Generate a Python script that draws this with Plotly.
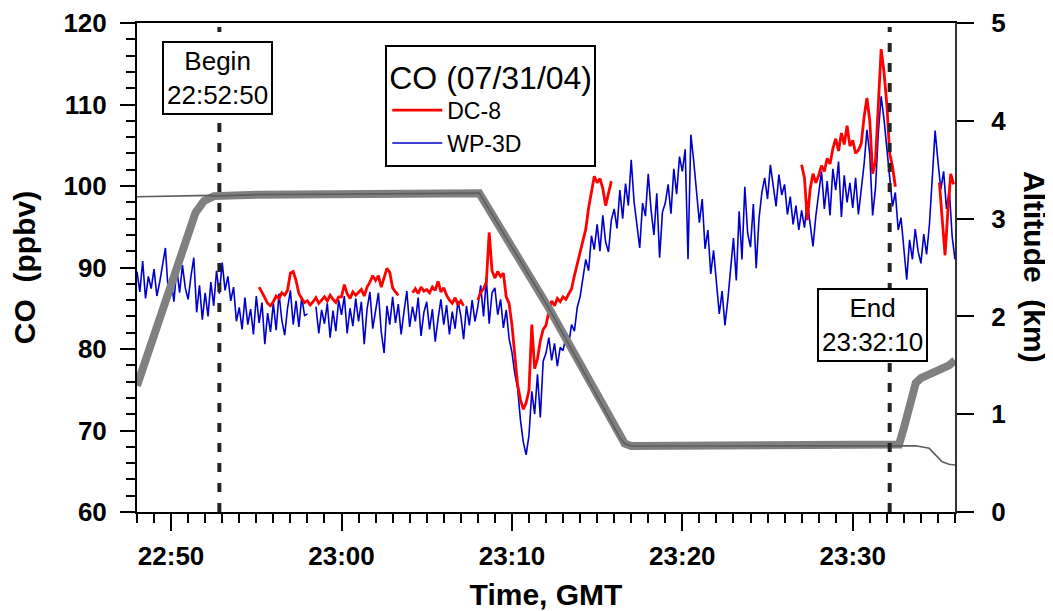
import plotly.graph_objects as go
import pandas as pd

DATE = "2004-07-31 "

# ---------------- data ----------------
# WP-3D CO (ppbv), 10-s samples starting 22:48:00
wp3d_start = "22:48:00"
wp3d_co = [
    89.5, 87.0, 90.8, 86.2, 88.9, 87.4,
    89.8, 86.5, 88.2, 90.1, 92.4, 87.0,
    88.6, 85.8, 89.9, 86.9, 90.3, 87.5,
    86.1, 88.9, 91.2, 84.5, 87.8, 83.6,
    86.9, 84.0, 88.2, 85.3, 89.6, 86.8,
    90.6, 87.2, 88.9, 85.9, 87.6, 83.4,
    85.1, 82.4, 86.3, 83.0, 84.9, 81.8,
    86.5, 83.2, 85.7, 80.6, 84.4, 82.1,
    85.6, 82.3, 86.8, 83.5, 81.7, 85.0,
    87.2, 83.0, 85.9, 82.7, 86.4, 84.1,
    84.3, None, None, 85.2, 81.9, 84.8,
    83.1, 85.6, 81.4, 84.7, 82.2, 86.0,
    84.2, 86.5, 81.9, 85.0, 82.8, 86.2,
    83.4, 85.8, 80.6, 84.9, 87.0, 82.5,
    84.8, 86.9, 82.1, 79.5, 85.3, 83.0,
    86.4, 83.2, 85.5, 81.8, 84.6, 87.1,
    82.7, 85.2, 83.4, 86.3, 81.6, 84.5,
    85.8, 82.4, 84.9, 80.9, 83.7, 86.1,
    83.0, 85.4, 81.8, 84.6, 82.5, 85.9,
    84.1, 81.2, 85.3, 82.9, 86.0, 83.4,
    85.2, 87.8, 84.0, 88.6, 83.1, 86.9,
    87.5, 84.2, 86.1, 82.6, 84.8, 81.3,
    79.6, 77.0, 75.2, 71.3, 68.6, 67.0,
    69.4, 74.8, 72.0, 76.9, 71.6, 78.5,
    79.5, 81.4, 78.6, 80.7, 77.9, 80.2,
    79.8, 81.5, 80.6, 83.0, 82.2, 85.1,
    86.4, 88.8, 91.0, 89.6, 93.9, 92.2,
    95.3, 92.0, 96.4, 93.1, 91.9, 95.8,
    97.2, 94.8, 99.5, 96.0, 100.3, 97.6,
    103.2, 98.1, 95.4, 92.4, 97.9, 96.3,
    101.5, 97.0, 94.0, 99.1, 91.2, 96.8,
    97.9, 100.2, 96.6, 102.1, 99.0, 103.6,
    101.8, 104.5, 91.0, 106.3, 103.1, 99.6,
    95.5, 98.4, 92.3, 94.6, 89.2, 92.1,
    88.0, 84.3, 87.1, 82.9, 86.0, 89.4,
    93.6, 88.4, 96.9, 91.0, 99.9, 94.2,
    92.5, 97.8, 89.9, 96.0, 99.2, 101.0,
    98.4, 102.6, 99.9, 97.5, 101.4, 98.9,
    100.2, 96.5, 98.7, 95.3, 97.6, 94.6,
    97.0, 94.9, 98.1, 95.5, 92.6, 96.3,
    98.9, 101.8, 97.2, 100.6, 96.4, 102.1,
    99.5, 103.0, 96.2, 101.3, 98.0, 100.4,
    97.3, 101.0, 96.5, 99.8, 102.7, 106.9,
    103.8, 96.4, 99.7, 106.5, 111.0, 108.2,
    104.9, 100.8, 97.5, 99.2, 94.6, 96.1,
    92.2, 88.5, 93.4, 91.0, 94.7, 92.0,
    90.5, 94.1, 91.6, 95.3, 101.0, 106.8,
    103.0, 99.6, 101.8, 97.2, 99.5, 93.8,
    91.0,
]

# DC-8 CO (ppbv), 10-s samples, three segments
dc8_starts = ["22:55:10", "23:27:00", "23:35:05"]
dc8_co_a = [
    87.6, 87.0, 86.3, 85.6, 85.3,
    85.8, 86.5, 86.2, 86.9, 86.6, 87.2,
    89.3, 89.5, 88.4, 86.8, 86.2, 85.7,
    85.9, 85.4, 85.8, 86.3, 85.6, 86.0,
    86.4, 85.9, 86.6, 86.1, 85.7, 86.4,
    86.4, 87.9, 86.8, 86.2, 87.0, 86.6,
    86.9, 87.3, 86.5, 87.6, 88.2, 89.0,
    88.4, 89.0, 87.6, 88.7, 89.9, 89.4,
    87.5, 87.0, 86.6, None, None, None,
    None, 86.9, 87.4, 86.8, 87.6, 87.1,
    87.3, 86.9, 87.6, 87.2, 88.3, 87.0,
    87.5, 86.6, 86.0, 85.6, 86.3, 85.4,
    85.9, 85.3, None, None, None, None,
    86.0, 86.9, 87.4, 88.2, 94.3, 89.6,
    88.7, 89.5, 88.9, 89.3, 86.4, 85.6,
    83.0, 79.5, 75.6, 73.8, 72.6, 73.4,
    74.9, 83.0, 77.6, 78.8, 81.0, 82.4,
    82.9, 84.6, 85.9, 85.3, 86.2, 85.8,
    86.4, 86.1, 86.7, 87.4, 89.0, 90.5,
    91.9, 93.6, 94.7, 97.3, 99.5, 101.2,
    100.4, 100.9, 99.7, 97.6, 99.1, 100.6,
]
dc8_co_b = [
    102.6, 101.0, 95.8, 99.6, 101.5, 100.4,
    101.3, 102.5, 101.8, 103.4, 102.7, 104.6,
    105.8, 104.3, 106.5, 105.1, 107.4, 104.9,
    105.6, 104.0, 104.4, 105.2, 108.5, 110.8,
    108.0, 101.5, 103.0, 110.5, 116.8, 114.0,
    110.0, 104.0, 102.4, 99.9,
]
dc8_co_c = [100.4, 96.0, 91.5, 97.0, 101.5, 100.2]

# Altitude (km)
dc8_alt_time = ["22:48:00", "22:50:57", "22:51:26", "22:51:56", "22:52:31", "22:55:00",
                "23:00:00", "23:04:00", "23:08:05", "23:12:13", "23:16:20", "23:16:37",
                "23:17:00", "23:22:00", "23:28:00", "23:32:43", "23:33:01", "23:33:24",
                "23:33:42", "23:34:00", "23:35:04", "23:35:39", "23:36:00"]
dc8_alt_km = [1.29, 2.82, 3.06, 3.18, 3.23, 3.245,
              3.25, 3.255, 3.26, 2.07, 0.76, 0.70,
              0.675, 0.675, 0.68, 0.69, 0.87, 1.145,
              1.32, 1.37, 1.45, 1.50, 1.55]
wp3d_alt_time = ["22:48:00", "22:52:18", "22:52:31", "22:55:00", "23:00:00", "23:04:00",
                 "23:08:05", "23:12:13", "23:16:20", "23:16:37", "23:17:00", "23:22:00",
                 "23:28:00", "23:32:43", "23:33:42", "23:34:29", "23:34:52", "23:35:15",
                 "23:35:39", "23:36:00"]
wp3d_alt_km = [3.224, 3.237, 3.23, 3.245, 3.25, 3.255,
               3.26, 2.07, 0.76, 0.70, 0.675, 0.675,
               0.68, 0.678, 0.678, 0.651, 0.583, 0.514,
               0.488, 0.48]

event_labels = ["Begin", "End"]
event_times = ["22:52:50", "23:32:10"]

x_tick_labels = ["22:50", "23:00", "23:10", "23:20", "23:30"]
y_ticks = [60, 70, 80, 90, 100, 110, 120]
y2_ticks = [0, 1, 2, 3, 4, 5]


# ---------------- helpers ----------------
def sampled_times(start, n):
    return list(pd.date_range(DATE + start, periods=n, freq="10s"))


def stamp(times):
    return [pd.Timestamp(DATE + t) for t in times]


dc8_x, dc8_y = [], []
for st, vals in zip(dc8_starts, [dc8_co_a, dc8_co_b, dc8_co_c]):
    ts = sampled_times(st, len(vals))
    dc8_x += ts + [ts[-1] + pd.Timedelta(seconds=5)]
    dc8_y += vals + [None]

FONT = "Liberation Sans, Arial, Helvetica, sans-serif"

fig = go.Figure()

fig.add_trace(go.Scatter(
    x=sampled_times(wp3d_start, len(wp3d_co)), y=wp3d_co, mode="lines",
    name="WP-3D", line=dict(color="#0000CC", width=1.6), legendrank=2))
fig.add_trace(go.Scatter(
    x=dc8_x, y=dc8_y, mode="lines", name="DC-8",
    line=dict(color="#FF0000", width=2.8), legendrank=1))
fig.add_trace(go.Scatter(
    x=stamp(dc8_alt_time), y=dc8_alt_km, mode="lines", yaxis="y2",
    line=dict(color="#808080", width=8), showlegend=False, name="DC-8 altitude"))
fig.add_trace(go.Scatter(
    x=stamp(wp3d_alt_time), y=wp3d_alt_km, mode="lines", yaxis="y2",
    line=dict(color="#5E5E5E", width=1.6), showlegend=False, name="WP-3D altitude"))

shapes = []
annotations = []
box_pos = {"Begin": (0.888, -2), "End": (0.382, -17)}
for lab, t in zip(event_labels, event_times):
    shapes.append(dict(type="line", xref="x", yref="paper",
                       x0=DATE + t, x1=DATE + t, y0=0, y1=0.992,
                       line=dict(color="#222222", width=4, dash="9px,11px")))
    ypos, xs = box_pos[lab]
    annotations.append(dict(
        x=DATE + t, y=ypos, xref="x", yref="paper", xshift=xs,
        xanchor="center", yanchor="middle",
        text=f"{lab}<br>{t}", showarrow=False, align="center",
        font=dict(family=FONT, size=26, color="black"),
        bgcolor="white", bordercolor="black", borderwidth=2, borderpad=3))

annotations.append(dict(
    x=1.0978, y=0.501, xref="paper", yref="paper", text="Altitude\u00a0\u00a0(km)",
    xanchor="center", yanchor="middle",
    textangle=90, showarrow=False,
    font=dict(family=FONT, size=30, color="black", weight="bold")))

# the page adds an 8-px body margin, so the figure is 8 px smaller than the window
fig.update_layout(
    width=1045, height=603,
    margin=dict(l=129, r=98, t=15, b=99, autoexpand=False),
    paper_bgcolor="white", plot_bgcolor="white",
    font=dict(family=FONT, color="black"),
    shapes=shapes, annotations=annotations,
    legend=dict(x=0.3035, y=0.955, xanchor="left", yanchor="top",
                bgcolor="white", bordercolor="black", borderwidth=2,
                font=dict(family=FONT, size=23, color="black"),
                title=dict(text="CO (07/31/04)", font=dict(family=FONT, size=32, color="black")),
                tracegroupgap=0, itemwidth=50),
    xaxis=dict(
        type="date", range=[DATE + "22:48:00", DATE + "23:36:00"], automargin=False,
        tickmode="array", tickvals=[DATE + t for t in x_tick_labels], ticktext=x_tick_labels,
        ticks="outside", ticklen=17, tickwidth=2, tickcolor="black",
        showline=True, linewidth=2, linecolor="black", mirror=True,
        showgrid=False, zeroline=False, ticklabelstandoff=3,
        tickfont=dict(family=FONT, size=26, color="black", weight="bold"),
        minor=dict(ticks="outside", ticklen=9, tickwidth=2, tickcolor="black",
                   dtick=60000, tick0=DATE + "22:48:00", showgrid=False),
        title=dict(text="Time, GMT", standoff=14,
                   font=dict(family=FONT, size=30, color="black", weight="bold"))),
    yaxis=dict(
        range=[60, 120], tickmode="array", tickvals=y_ticks, automargin=False,
        ticks="outside", ticklen=15, tickwidth=2, tickcolor="black",
        showline=True, linewidth=2, linecolor="black",
        showgrid=False, zeroline=False, ticklabelstandoff=8,
        tickfont=dict(family=FONT, size=26, color="black", weight="bold"),
        minor=dict(ticks="outside", ticklen=9, tickwidth=2, tickcolor="black",
                   dtick=2, tick0=60, showgrid=False),
        title=dict(text="CO\u00a0\u00a0(ppbv)", standoff=22,
                   font=dict(family=FONT, size=30, color="black", weight="bold"))),
    yaxis2=dict(
        overlaying="y", side="right", range=[0, 5], tickmode="array", tickvals=y2_ticks,
        automargin=False,
        ticks="outside", ticklen=17, tickwidth=2, tickcolor="black",
        showline=True, linewidth=2, linecolor="#333333",
        showgrid=False, zeroline=False, ticklabelstandoff=12,
        tickfont=dict(family=FONT, size=26, color="black", weight="bold")),
)

fig.write_html("out.html")
